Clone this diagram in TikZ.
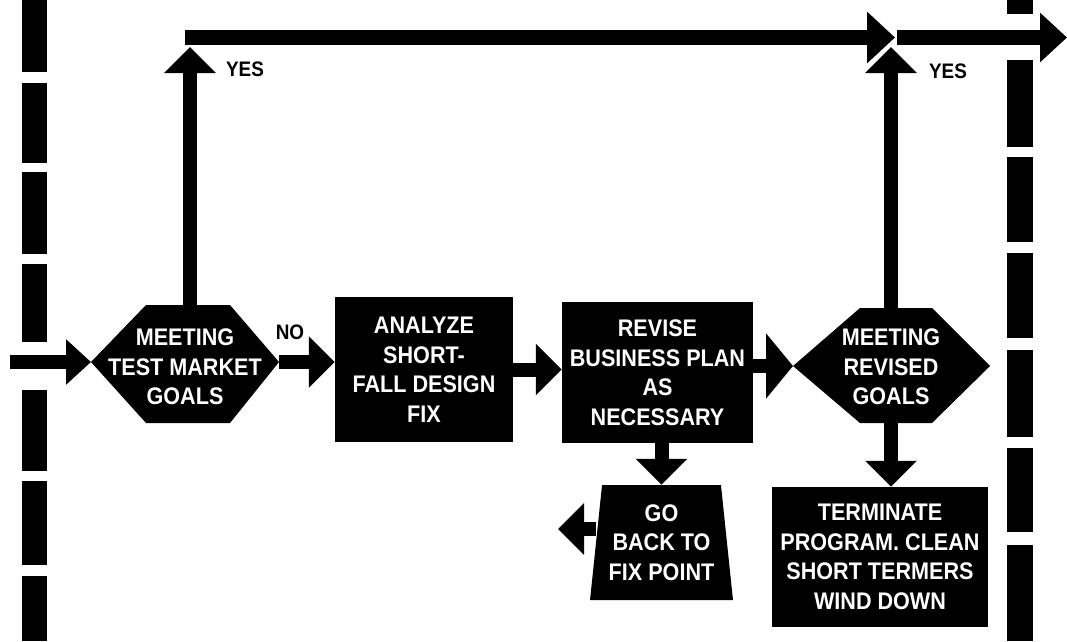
\documentclass[tikz,border=0pt]{standalone}
\usepackage{fontspec}
\newfontfamily\chartfont[FakeStretch=0.9]{Liberation Sans}
\usetikzlibrary{arrows.meta,shapes.geometric}
\tikzset{
  box/.style={fill=black, text=white, inner sep=0pt, align=center,
    font=\chartfont\bfseries\fontsize{24}{29.5}\selectfont},
  flow/.style={line width=14pt, -{Triangle[length=26pt,width=50pt]}},
  tag/.style={inner sep=0pt, font=\chartfont\bfseries\fontsize{21}{24}\selectfont}
}
\begin{document}
\begin{tikzpicture}[x=1pt, y=-1pt]
    \useasboundingbox (0,0) rectangle (1067,641);
    % dashed borders
    \foreach \a/\b in {0/72,83/163,172/254,264/342,390/471,481/565,576/641}
        \fill (22,\a) rectangle (47,\b);
    \foreach \a/\b in {0/14,60/147,157/242,253/338,350/437,448/532,545/641}
        \fill (1007,\a) rectangle (1033,\b);

    % decision: test market goals
    \fill (91,362) coordinate (tW) -- (146,305) -- (230,305) -- (279,362) coordinate (tE)
        -- (230,423) -- (146,423) -- cycle;
    \coordinate (tN) at (190,305);
    \node[box, fill=none] (test) at (185,367) {MEETING\\TEST MARKET\\GOALS};

    % decision: revised goals
    \fill (793,366) coordinate (rW) -- (860,308) -- (932,308) -- (990,366)
        -- (932,423) -- (860,423) -- cycle;
    \coordinate (rN) at (891,308);
    \coordinate (rS) at (891,423);
    \node[box, fill=none] (revised) at (891,367) {MEETING\\REVISED\\GOALS};

    % process boxes
    \node[box, minimum width=178pt, minimum height=145pt] (analyze) at (424,369.5)
        {ANALYZE\\SHORT-\\FALL DESIGN\\FIX};
    \node[box, minimum width=191pt, minimum height=141pt] (revise) at (657.5,372.5)
        {REVISE\\BUSINESS PLAN\\AS\\NECESSARY};
    \node[box, minimum width=216pt, minimum height=140pt] (term) at (880,557)
        {TERMINATE\\PROGRAM. CLEAN\\SHORT TERMERS\\WIND DOWN};
    \node[box, trapezium, trapezium left angle=82, trapezium right angle=82,
        trapezium stretches, minimum width=143pt, minimum height=115pt] (goback) at (661.5,542.5)
        {GO\\BACK TO\\FIX POINT};

    % free ends
    \coordinate (in) at (10,362);
    \coordinate (topL) at (185,37.5);
    \coordinate (join) at (895,37.5);
    \coordinate (joinR) at (897,37.5);
    \coordinate (out) at (1067,37.5);
    \coordinate (yesL) at (190,47);
    \coordinate (yesR) at (891,47);
    \coordinate (backTip) at (558,529);

    % connectors
    \draw[flow, -{Triangle[length=25pt,width=44pt]}] (in) -- (tW);
    \draw[flow] (tN) -- (yesL);
    \draw[line width=15pt, -{Triangle[length=28pt,width=50pt]}] (topL) -- (join);
    \draw[line width=15pt, -{Triangle[length=27pt,width=48pt]}] (joinR) -- (out);
    \draw[flow] (tE) -- (tE -| analyze.west);
    \draw[flow] (analyze.east) -- (analyze.east -| revise.west);
    \draw[flow, -{Triangle[length=27pt,width=64pt]}] (revise.east |- rW) -- (rW);
    \draw[flow] (rN) -- (yesR);
    \draw[flow] (rS) -- (rS |- term.north);
    \draw[flow] (revise.south -| goback.north) -- (goback.north);
    \draw[flow] (goback.west |- backTip) -- (backTip);

    % labels
    \node[tag] (yes1) at (245,69) {YES};
    \node[tag] (yes2) at (948,71) {YES};
    \node[tag] (no) at (290,332) {NO};
\end{tikzpicture}
\end{document}
